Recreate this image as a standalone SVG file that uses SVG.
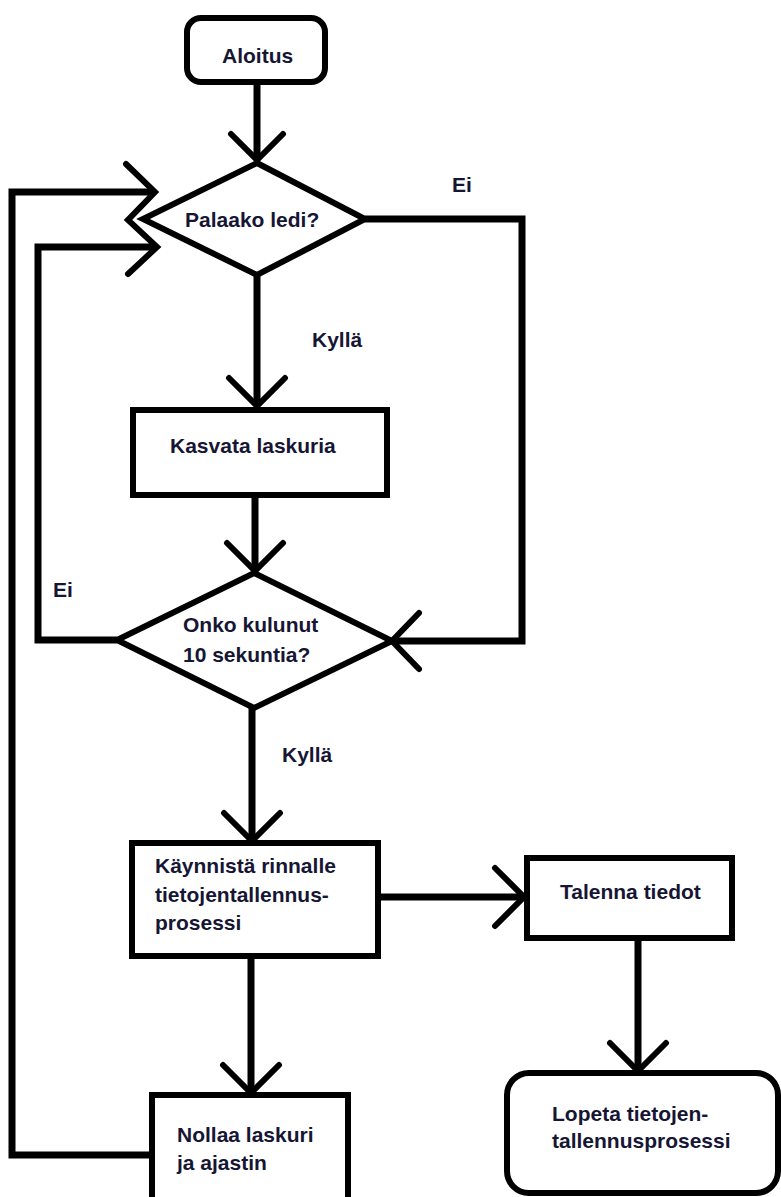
<svg xmlns="http://www.w3.org/2000/svg" width="781" height="1197" viewBox="0 0 781 1197">
<style>
.box{fill:#fff;stroke:#000;stroke-width:6}
.ln{fill:none;stroke:#000;stroke-width:7;stroke-linejoin:miter;stroke-linecap:butt}
.ah{fill:none;stroke:#000;stroke-width:6;stroke-linecap:round;stroke-linejoin:miter}
.t{font-family:"Liberation Sans",Arial,sans-serif;font-weight:bold;font-size:21px;fill:#161634}
</style>
<rect width="781" height="1197" fill="#fff"/>
<g id="connectors">
<path class="ln" d="M257,82 V160"/>
<polyline class="ah" points="231,134 257,160 283,134"/>
<path class="ln" d="M257,275 V406"/>
<polyline class="ah" points="229,378 257,406 285,378"/>
<path class="ln" d="M255,495 V571"/>
<polyline class="ah" points="227,543 255,571 283,543"/>
<path class="ln" d="M252,708 V841"/>
<polyline class="ah" points="224,813 252,841 280,813"/>
<path class="ln" d="M251,956 V1093"/>
<polyline class="ah" points="223,1065 251,1093 279,1065"/>
<path class="ln" d="M378,897 H524"/>
<polyline class="ah" points="495,868 524,897 495,926"/>
<path class="ln" d="M638,938 V1071"/>
<polyline class="ah" points="610,1043 638,1071 666,1043"/>
<path class="ln" d="M365,219 H522 V641 H392"/>
<polyline class="ah" points="419,613 392,641 419,669"/>
<path class="ln" d="M117,640 H38 V247 H157"/>
<path class="ln" d="M152,1155 H12 V192 H155"/>
<polyline class="ah" points="126,164 155,192 128,220 157,247 128,274"/>
</g>
<g id="n-aloitus">
<rect class="box" x="187" y="18" width="138" height="64" rx="14"/>
<text class="t" x="222" y="63">Aloitus</text>
</g>
<g id="n-palaako">
<polygon class="box" points="257,163 365,219 257,275 143,219"/>
<text class="t" x="185" y="227">Palaako ledi?</text>
</g>
<g id="l-ei1"><text class="t" x="452" y="192">Ei</text></g>
<g id="l-kylla1"><text class="t" x="312" y="347">Kyllä</text></g>
<g id="n-kasvata">
<rect class="box" x="133" y="410" width="254" height="85"/>
<text class="t" x="170" y="453">Kasvata laskuria</text>
</g>
<g id="n-onko">
<polygon class="box" points="254,573 392,641 254,708 117,640"/>
<text class="t" x="183" y="632">Onko kulunut</text>
<text class="t" x="183" y="662">10 sekuntia?</text>
</g>
<g id="l-ei2"><text class="t" x="53" y="597">Ei</text></g>
<g id="l-kylla2"><text class="t" x="282" y="762">Kyllä</text></g>
<g id="n-kaynnista">
<rect class="box" x="132" y="843" width="246" height="113"/>
<text class="t" x="155" y="873">Käynnistä rinnalle</text>
<text class="t" x="155" y="902">tietojentallennus-</text>
<text class="t" x="155" y="930">prosessi</text>
</g>
<g id="n-talenna">
<rect class="box" x="527" y="858" width="205" height="80"/>
<text class="t" x="560" y="899">Talenna tiedot</text>
</g>
<g id="n-nollaa">
<rect class="box" x="152" y="1095" width="196" height="115"/>
<text class="t" x="177" y="1142">Nollaa laskuri</text>
<text class="t" x="177" y="1170">ja ajastin</text>
</g>
<g id="n-lopeta">
<rect class="box" x="507" y="1073" width="271" height="120" rx="22"/>
<text class="t" x="552" y="1121">Lopeta tietojen-</text>
<text class="t" x="552" y="1148">tallennusprosessi</text>
</g>
</svg>
